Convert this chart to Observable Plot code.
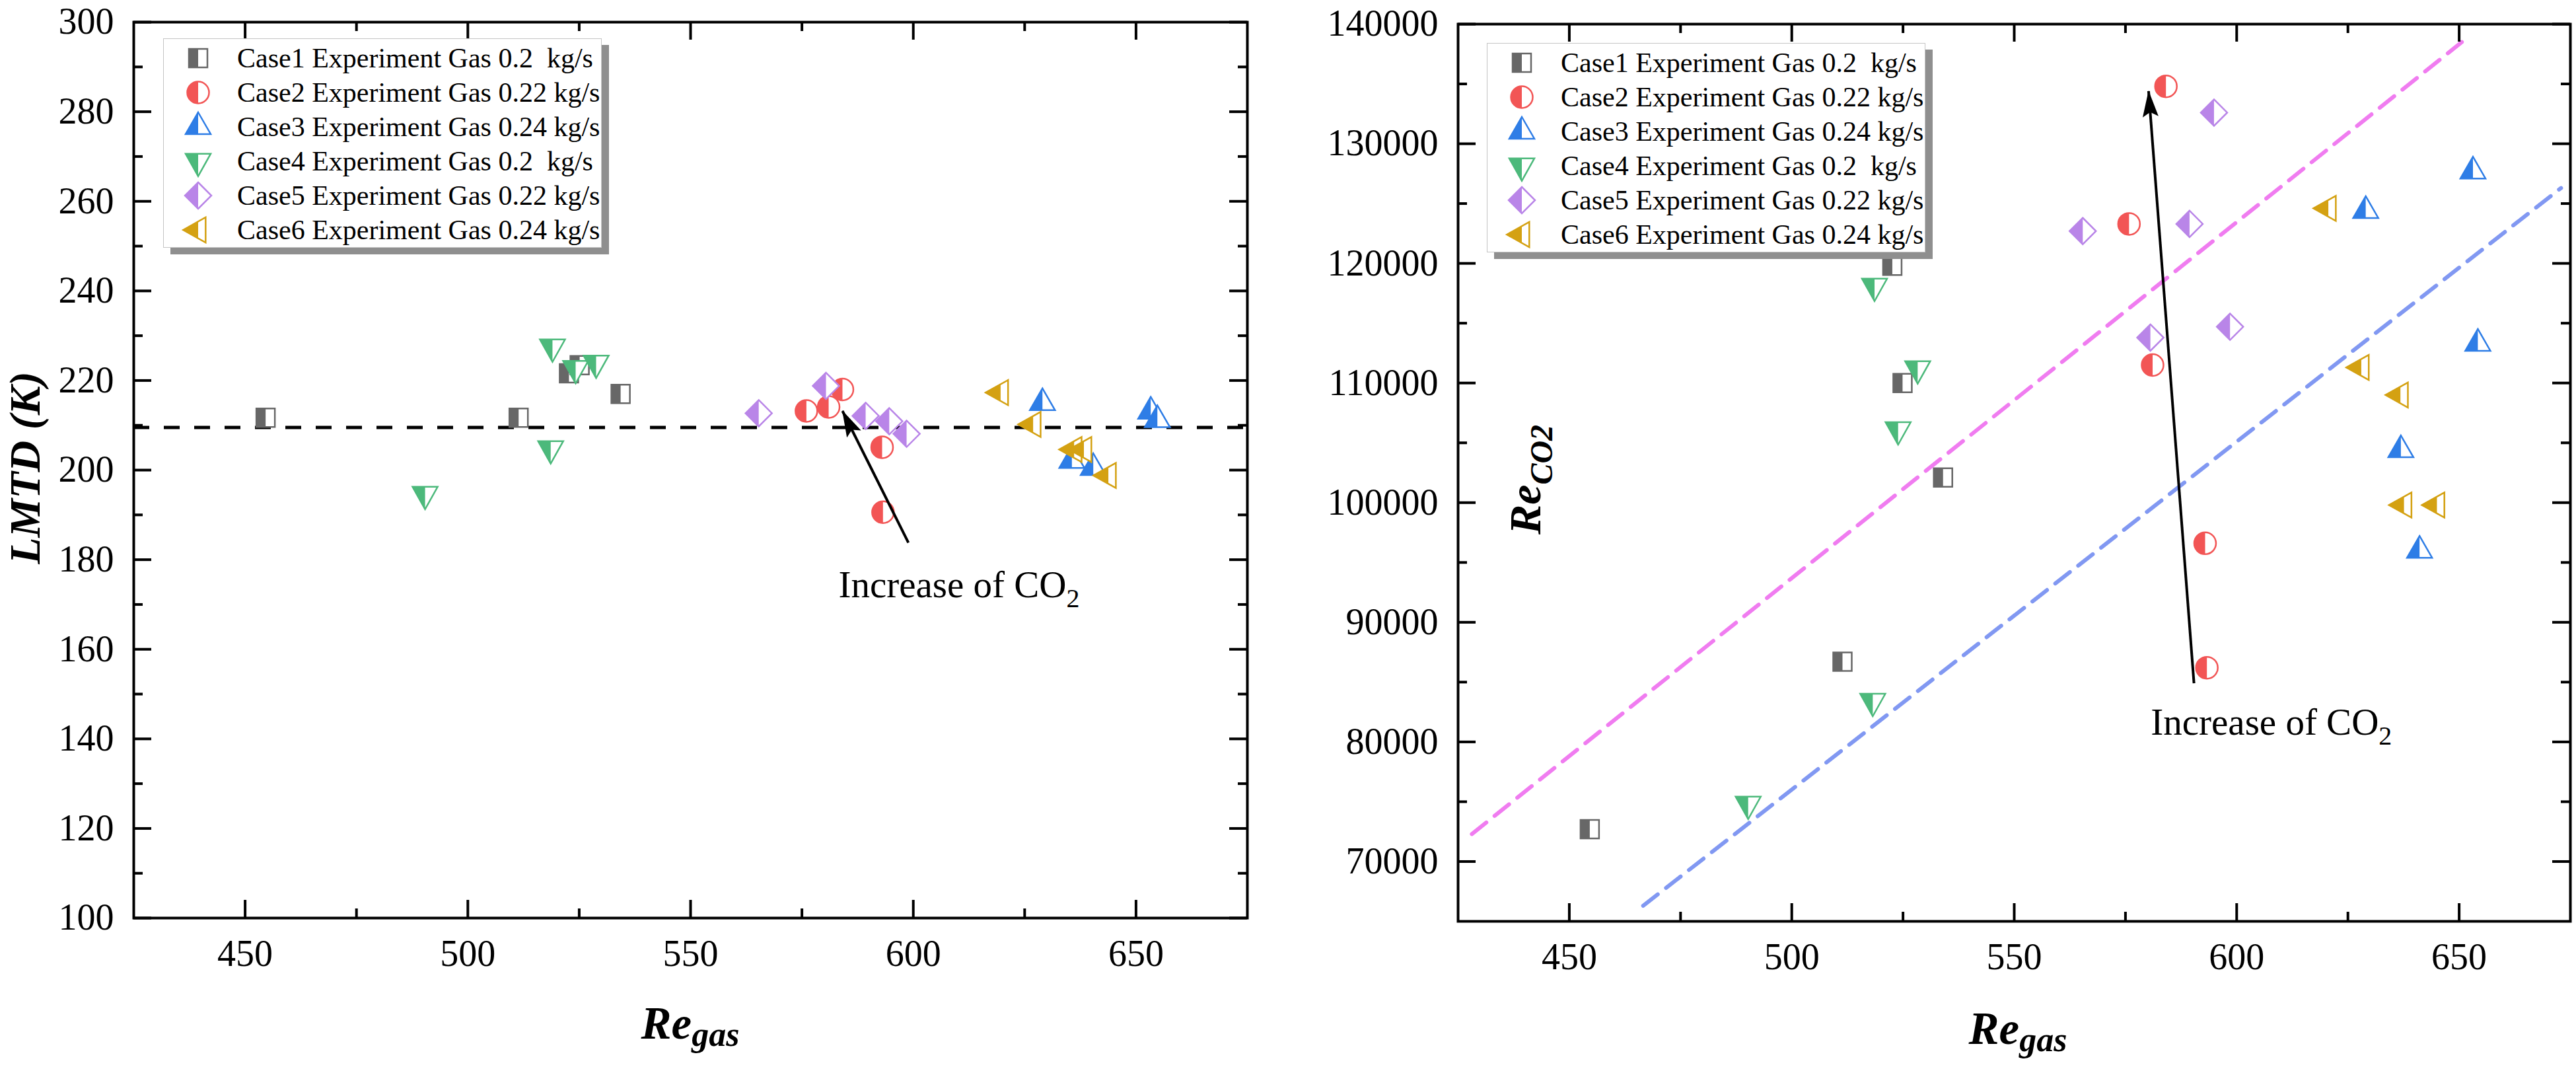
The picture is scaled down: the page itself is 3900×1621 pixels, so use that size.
<!DOCTYPE html>
<html><head><meta charset="utf-8">
<script src="https://cdn.jsdelivr.net/npm/d3@7"></script>
<script src="https://cdn.jsdelivr.net/npm/@observablehq/plot@0.6"></script>
<style>
html,body{margin:0;padding:0;background:#fff;}
#root{position:relative;width:3900px;height:1621px;overflow:hidden;font-family:"Liberation Serif","Times New Roman",serif;color:#000;}
.plot{position:absolute;top:0;}
.legend{position:absolute;background:#fff;border:1.5px solid #c4c4c4;box-shadow:11px 10px 0 #8f8f8f;box-sizing:border-box;}
.row{position:absolute;left:0;height:52px;display:flex;align-items:center;white-space:pre;font-size:42px;}
.row svg{position:absolute;}
#labels{position:absolute;left:0;top:0;pointer-events:none;}
</style></head><body><div id="root"></div>
<script>
// ---------- categories / labels ----------
const cases = [
  "Case1 Experiment Gas 0.2  kg/s",
  "Case2 Experiment Gas 0.22 kg/s",
  "Case3 Experiment Gas 0.24 kg/s",
  "Case4 Experiment Gas 0.2  kg/s",
  "Case5 Experiment Gas 0.22 kg/s",
  "Case6 Experiment Gas 0.24 kg/s"
];
const caseColors = ["#676767", "#f25555", "#2e7de6", "#4cb97b", "#b985e8", "#d4a112"];
const caseShapes = ["square", "circle", "triangleUp", "triangleDown", "diamond", "triangleLeft"];

// ---------- left panel: LMTD vs Re_gas ----------
const case1ReGasL = [454.6, 511.4, 522.7, 525.1, 534.3];
const case1LMTD   = [211.7, 211.7, 221.6, 223.4, 217.0];
const case2ReGasL = [576.0, 581.0, 584.1, 593.0, 593.2];
const case2LMTD   = [213.2, 214.1, 218.0, 205.1, 190.6];
const case3ReGasL = [629.0, 635.6, 640.4, 653.3, 654.8];
const case3LMTD   = [215.0, 202.1, 200.5, 213.1, 211.2];
const case4ReGasL = [490.4, 518.6, 519.0, 524.2, 528.8];
const case4LMTD   = [194.6, 204.8, 227.5, 222.7, 223.9];
const case5ReGasL = [565.3, 580.4, 589.3, 594.6, 598.5];
const case5LMTD   = [212.7, 218.8, 212.1, 210.9, 208.1];
const case6ReGasL = [619.6, 626.9, 636.1, 638.3, 643.8];
const case6LMTD   = [217.3, 210.2, 204.6, 204.6, 198.8];
const lmtdMean = [209.5];

// ---------- right panel: Re_CO2 vs Re_gas ----------
const case1ReGasR = [454.6, 511.4, 522.6, 524.9, 534.0];
const case1ReCO2  = [72700, 86700, 119800, 110000, 102100];
const case2ReGasR = [584.1, 575.8, 581.1, 592.9, 593.3];
const case2ReCO2  = [134800, 123300, 111500, 96600, 86200];
const case3ReGasR = [653.1, 629.0, 654.2, 636.9, 641.1];
const case3ReCO2  = [127700, 124400, 113300, 104400, 96000];
const case4ReGasR = [518.6, 528.3, 523.9, 518.2, 490.2];
const case4ReCO2  = [118100, 111200, 106100, 83400, 74800];
const case5ReGasR = [594.9, 565.4, 589.4, 580.6, 598.5];
const case5ReCO2  = [132600, 122700, 123300, 113800, 114700];
const case6ReGasR = [620.6, 628.0, 636.8, 637.6, 645.0];
const case6ReCO2  = [124600, 111300, 109000, 99800, 99800];
const upperBoundReGas = [428.1, 650.6];
const upperBoundReCO2 = [72300, 138500];
const lowerBoundReGas = [466.6, 672.9];
const lowerBoundReCO2 = [66300, 126300];

// ---------- annotations ----------
const arrowL = [{x1: 598.9, y1: 183.8, x2: 584.1, y2: 213.2}];
const arrowR = [{x1: 590.4, y1: 84900, x2: 580.2, y2: 134400}];
const noteL = [{x: 583.2, y: 174.3, text: "Increase of CO"}];
const noteR = [{x: 580.7, y: 81600, text: "Increase of CO"}];

// ---------- ticks ----------
const xMajor = [450, 500, 550, 600, 650];
const xMinor = [475, 525, 575, 625];
const yMajorL = [100, 120, 140, 160, 180, 200, 220, 240, 260, 280, 300];
const yMinorL = [110, 130, 150, 170, 190, 210, 230, 250, 270, 290];
const yMajorR = [70000, 80000, 90000, 100000, 110000, 120000, 130000, 140000];
const yMinorR = [75000, 85000, 95000, 105000, 115000, 125000, 135000];

const zip = (xs, ys) => xs.map((x, i) => ({x, y: ys[i]}));
const leftSeries = [
  zip(case1ReGasL, case1LMTD), zip(case2ReGasL, case2LMTD), zip(case3ReGasL, case3LMTD),
  zip(case4ReGasL, case4LMTD), zip(case5ReGasL, case5LMTD), zip(case6ReGasL, case6LMTD)
];
const rightSeries = [
  zip(case1ReGasR, case1ReCO2), zip(case2ReGasR, case2ReCO2), zip(case3ReGasR, case3ReCO2),
  zip(case4ReGasR, case4ReCO2), zip(case5ReGasR, case5ReCO2), zip(case6ReGasR, case6ReCO2)
];

// ---------- half-filled symbol shapes ----------
function drawShape(ctx, kind, half, k) {
  switch (kind) {
    case "square": {
      const h = 14 * k;
      if (half) ctx.rect(-h, -h, h, 2 * h); else ctx.rect(-h, -h, 2 * h, 2 * h);
      break;
    }
    case "circle": {
      const r = 16.5 * k;
      if (half) { ctx.moveTo(0, -r); ctx.arc(0, 0, r, -Math.PI / 2, Math.PI / 2, true); ctx.closePath(); }
      else { ctx.moveTo(r, 0); ctx.arc(0, 0, r, 0, 2 * Math.PI); ctx.closePath(); }
      break;
    }
    case "triangleUp": {
      const w = 19 * k, a = 22 * k, b = 11 * k;
      if (half) { ctx.moveTo(0, -a); ctx.lineTo(0, b); ctx.lineTo(-w, b); }
      else { ctx.moveTo(0, -a); ctx.lineTo(w, b); ctx.lineTo(-w, b); }
      ctx.closePath();
      break;
    }
    case "triangleDown": {
      const w = 19 * k, a = 22.7 * k, b = 11.3 * k;
      if (half) { ctx.moveTo(-w, -b); ctx.lineTo(0, -b); ctx.lineTo(0, a); }
      else { ctx.moveTo(-w, -b); ctx.lineTo(w, -b); ctx.lineTo(0, a); }
      ctx.closePath();
      break;
    }
    case "diamond": {
      const a = 20 * k;
      if (half) { ctx.moveTo(0, -a); ctx.lineTo(0, a); ctx.lineTo(-a, 0); }
      else { ctx.moveTo(0, -a); ctx.lineTo(a, 0); ctx.lineTo(0, a); ctx.lineTo(-a, 0); }
      ctx.closePath();
      break;
    }
    case "triangleLeft": {
      const t = 22.7 * k, e = 11.3 * k, h = 19 * k, m = 12.7 * k;
      if (half) { ctx.moveTo(-t, 0); ctx.lineTo(0, -m); ctx.lineTo(0, m); }
      else { ctx.moveTo(-t, 0); ctx.lineTo(e, -h); ctx.lineTo(e, h); }
      ctx.closePath();
      break;
    }
  }
}
const symbolFor = (kind, half) => ({
  draw(ctx, size) { drawShape(ctx, kind, half, Math.sqrt(size / Math.PI) / 15); }
});

// ---------- panel builder ----------
function makePanel(cfg) {
  const W = 1950, H = 1621;
  const innerW = W - cfg.ml - cfg.mr, innerH = H - cfg.mt - cfg.mb;
  const marks = [...cfg.refMarks];
  cfg.series.forEach((data, i) => {
    marks.push(Plot.dot(data, {x: "x", y: "y", r: 15, symbol: symbolFor(caseShapes[i], false),
      fill: "white", stroke: caseColors[i], strokeWidth: 2.5}));
    marks.push(Plot.dot(data, {x: "x", y: "y", r: 15, symbol: symbolFor(caseShapes[i], true),
      fill: caseColors[i], stroke: "none"}));
  });
  marks.push(
    Plot.link(cfg.arrow, {x1: "x1", y1: "y1", x2: "x2", y2: "y2", stroke: "black", strokeWidth: 4}),
    Plot.text(cfg.note, {x: "x", y: "y", text: "text", textAnchor: "start", lineAnchor: "middle", fontSize: 57, fill: "black"}),
    // inward ticks on all four sides
    Plot.ruleX(xMajor, {insetTop: innerH - 27, stroke: "black", strokeWidth: 4}),
    Plot.ruleX(xMinor, {insetTop: innerH - 14, stroke: "black", strokeWidth: 4}),
    Plot.ruleX(xMajor, {insetBottom: innerH - 27, stroke: "black", strokeWidth: 4}),
    Plot.ruleX(xMinor, {insetBottom: innerH - 14, stroke: "black", strokeWidth: 4}),
    Plot.ruleY(cfg.yMajor, {insetRight: innerW - 27, stroke: "black", strokeWidth: 4}),
    Plot.ruleY(cfg.yMinor, {insetRight: innerW - 14, stroke: "black", strokeWidth: 4}),
    Plot.ruleY(cfg.yMajor, {insetLeft: innerW - 27, stroke: "black", strokeWidth: 4}),
    Plot.ruleY(cfg.yMinor, {insetLeft: innerW - 14, stroke: "black", strokeWidth: 4}),
    Plot.axisX({ticks: xMajor, tickSize: 0, tickPadding: 33, label: null, fontSize: 56, tickFormat: d3.format("d")}),
    Plot.axisY({ticks: cfg.yMajor, tickSize: 0, tickPadding: 30, label: null, fontSize: 56, tickFormat: d3.format("d")}),
    Plot.frame({stroke: "black", strokeWidth: 4})
  );
  const svg = Plot.plot({
    width: W, height: H,
    marginLeft: cfg.ml, marginRight: cfg.mr, marginTop: cfg.mt, marginBottom: cfg.mb,
    x: {domain: [425, 675]},
    y: {domain: cfg.yDomain},
    style: {fontFamily: "'Liberation Serif', 'Times New Roman', serif", fontSize: "56px", color: "black", background: "transparent", overflow: "visible"},
    marks
  });
  svg.classList.add("plot");
  svg.style.left = cfg.left + "px";
  // filled arrow head
  const ns = "http://www.w3.org/2000/svg";
  const defs = document.createElementNS(ns, "defs");
  defs.innerHTML = `<marker id="${cfg.id}" markerUnits="userSpaceOnUse" markerWidth="40" markerHeight="24" viewBox="0 0 40 24" refX="39" refY="12" orient="auto"><path d="M0,0 L40,12 L0,24 L7,12 Z" fill="black"/></marker>`;
  svg.insertBefore(defs, svg.firstChild);
  svg.querySelectorAll('g[aria-label="link"] path').forEach(p => p.setAttribute("marker-end", `url(#${cfg.id})`));
  // subscript 2 in "CO2"
  svg.querySelectorAll('g[aria-label="text"] text').forEach(t => {
    if (t.textContent === "Increase of CO") {
      const ts = document.createElementNS(ns, "tspan");
      ts.setAttribute("dy", "15");
      ts.setAttribute("font-size", "40");
      ts.textContent = "2";
      t.appendChild(ts);
    }
  });
  return svg;
}

const root = document.getElementById("root");

root.appendChild(makePanel({
  id: "ahL", left: 0, ml: 202, mr: 62, mt: 33, mb: 232,
  yDomain: [100, 300], yMajor: yMajorL, yMinor: yMinorL,
  series: leftSeries, arrow: arrowL, note: noteL,
  refMarks: [Plot.ruleY(lmtdMean, {stroke: "black", strokeWidth: 5, strokeDasharray: "24,22"})]
}));

root.appendChild(makePanel({
  id: "ahR", left: 1950, ml: 257, mr: 9, mt: 36, mb: 227,
  yDomain: [65000, 140000], yMajor: yMajorR, yMinor: yMinorR,
  series: rightSeries, arrow: arrowR, note: noteR,
  refMarks: [
    Plot.line(zip(upperBoundReGas, upperBoundReCO2), {x: "x", y: "y", stroke: "#f07cf0", strokeWidth: 6, strokeDasharray: "28,16"}),
    Plot.line(zip(lowerBoundReGas, lowerBoundReCO2), {x: "x", y: "y", stroke: "#8198f2", strokeWidth: 6, strokeDasharray: "28,16"})
  ]
}));

// ---------- legends ----------
function makeLegend(left, top) {
  const box = document.createElement("div");
  box.className = "legend";
  Object.assign(box.style, {left: left + "px", top: top + "px", width: "664px", height: "317px"});
  cases.forEach((label, i) => {
    const row = document.createElement("div");
    row.className = "row";
    row.style.top = (29 + 52 * i - 26) + "px";
    row.style.width = "100%";
    const p1 = d3.path(); drawShape(p1, caseShapes[i], false, 1);
    const p2 = d3.path(); drawShape(p2, caseShapes[i], true, 1);
    row.innerHTML = `<svg width="56" height="52" style="left:${52 - 28}px;top:0" viewBox="-28 -26 56 52"><path d="${p1}" fill="white" stroke="${caseColors[i]}" stroke-width="2.5"/><path d="${p2}" fill="${caseColors[i]}"/></svg><span style="position:absolute;left:111px">${label}</span>`;
    box.appendChild(row);
  });
  root.appendChild(box);
}
makeLegend(247, 58);
makeLegend(2251, 65);

// ---------- axis titles ----------
const labels = document.createElementNS("http://www.w3.org/2000/svg", "svg");
labels.setAttribute("id", "labels");
labels.setAttribute("width", 3900);
labels.setAttribute("height", 1621);
labels.innerHTML = `
<g font-family="'Liberation Serif', 'Times New Roman', serif" font-weight="bold" font-style="italic" fill="black">
  <text x="1045" y="1572" text-anchor="middle" font-size="69">Re<tspan font-size="52" dy="11">gas</tspan></text>
  <text x="3055" y="1580" text-anchor="middle" font-size="69">Re<tspan font-size="52" dy="11">gas</tspan></text>
  <text transform="translate(60,708) rotate(-90)" text-anchor="middle" font-size="66">LMTD (K)</text>
  <text transform="translate(2332,726) rotate(-90)" text-anchor="middle" font-size="68">Re<tspan font-size="48" dy="18">CO2</tspan></text>
</g>`;
root.appendChild(labels);
</script>
</body></html>
